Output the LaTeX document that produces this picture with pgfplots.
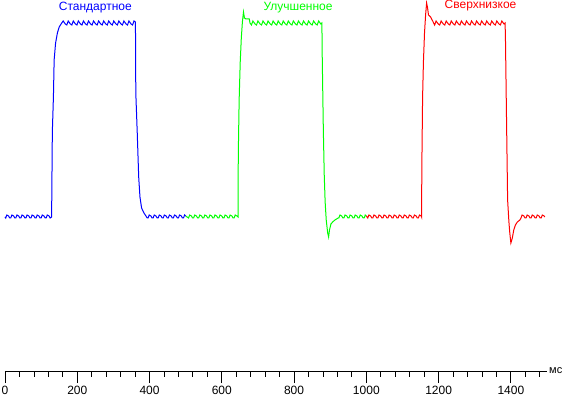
\documentclass[border=0pt]{standalone}
\usepackage{fontspec}
\setmainfont{Liberation Sans}
\usepackage{pgfplots}
\pgfplotsset{compat=1.18}
\begin{document}
\begin{tikzpicture}
\begin{axis}[
  at={(0pt,0pt)}, anchor=south west,
  scale only axis, width=542pt, height=371pt,
  xmin=0, xmax=1500, ymin=0, ymax=371,
  axis x line=bottom, axis y line=none,
  axis line style={-, black, line width=0.8pt},
  xtick={0,200,...,1400}, minor xtick={40,80,...,1480},
  tick align=outside, major tick length=12pt, minor tick length=6pt,
  tick style={black, line width=0.8pt},
  xticklabel style={font=\fontsize{12}{14}\selectfont, text=black},
  /pgf/number format/assume math mode=true,
  /pgf/number format/1000 sep={},
  clip=false,
]
% Blue
\addplot[blue, line width=1pt] coordinates {
(0,154)
(2,153)(5,156)(10,155)(13,153)
(16,153)(19,156)(24,155)(27,153)
(30,153)(33,156)(38,155)(41,153)
(44,153)(47,156)(52,155)(55,153)
(58,153)(61,156)(66,155)(69,153)
(72,153)(75,156)(80,155)(83,153)
(86,153)(89,156)(94,155)(97,153)
(100,153)(103,156)(108,155)(111,153)
(114,153)(117,156)(122,155)(125,153)
(129,154)(131,239)(134,274)(136,311)(140,328)(145,338)(150,344)(157,348)
(161,350)(167,347)
(171,346)(175,350)(181,347)
(185,346)(189,350)(195,347)
(199,346)(203,350)(209,347)
(213,346)(217,350)(223,347)
(227,346)(231,350)(237,347)
(241,346)(245,350)(251,347)
(255,346)(259,350)(265,347)
(269,346)(273,350)(279,347)
(283,346)(287,350)(293,347)
(297,346)(301,350)(307,347)
(311,346)(315,350)(321,347)
(325,346)(329,350)(335,347)
(339,346)(343,350)(349,347)
(353,346)(357,350)(361,349)
(362,278)(366,238)(370,194)(373.5,174)(378,163)(384.6,158)(393.7,153)
(396,153)(399,156)(404,155)(407,153)
(410,153)(413,156)(418,155)(421,153)
(424,153)(427,156)(432,155)(435,153)
(438,153)(441,156)(446,155)(449,153)
(452,153)(455,156)(460,155)(463,153)
(466,153)(469,156)(474,155)(477,153)
(480,153)(483,156)(488,155)(491,153)
(494,153)(497,156)(500,155)
};
% Green
\addplot[green, line width=1pt] coordinates {
(500,155)(504,154)
(508,153)(511,156)(516,155)(519,153)
(522,153)(525,156)(530,155)(533,153)
(536,153)(539,156)(544,155)(547,153)
(550,153)(553,156)(558,155)(561,153)
(564,153)(567,156)(572,155)(575,153)
(578,153)(581,156)(586,155)(589,153)
(592,153)(595,156)(600,155)(603,153)
(606,153)(609,156)(614,155)(617,153)
(620,153)(623,156)(628,155)(631,153)
(634,153)(637,156)(642,155)(645,154)
(645.6,216)(648,271)(651,309)(654,333)(657,349)(660,359)(662.7,353)(667,352)(676,352)(678,348)
(682,346)(686,350)(692,347)
(696,346)(700,350)(706,347)
(710,346)(714,350)(720,347)
(724,346)(728,350)(734,347)
(738,346)(742,350)(748,347)
(752,346)(756,350)(762,347)
(766,346)(770,350)(776,347)
(780,346)(784,350)(790,347)
(794,346)(798,350)(804,347)
(808,346)(812,350)(818,347)
(822,346)(826,350)(832,347)
(836,346)(840,350)(846,347)
(850,346)(854,350)(860,347)
(864,346)(868,350)(874,347)(877,348)
(878,313)(881,241)(883.5,196)(886,169)(889,151)(893,138)(895.6,134)(898,141)(902,147)(906.7,149)(913,151)(922,153)
(924,153)(927,156)(932,155)(935,153)
(938,153)(941,156)(946,155)(949,153)
(952,153)(955,156)(960,155)(963,153)
(966,153)(969,156)(974,155)(977,153)
(980,153)(983,156)(988,155)(991,153)
(994,153)(997,156)(1000,155)
};
% Red
\addplot[red, line width=1pt] coordinates {
(1000,155)(1002,154)
(1004,153)(1007,156)(1012,155)(1015,153)
(1018,153)(1021,156)(1026,155)(1029,153)
(1032,153)(1035,156)(1040,155)(1043,153)
(1046,153)(1049,156)(1054,155)(1057,153)
(1060,153)(1063,156)(1068,155)(1071,153)
(1074,153)(1077,156)(1082,155)(1085,153)
(1088,153)(1091,156)(1096,155)(1099,153)
(1102,153)(1105,156)(1110,155)(1113,153)
(1116,153)(1119,156)(1124,155)(1127,153)
(1130,153)(1133,156)(1138,155)(1141,153)
(1144,153)(1147,156)(1152,155)(1153,154)
(1153.5,201)(1155.7,274)(1158,309)(1161,338)(1164,356)(1166.8,368)(1169.5,363)(1172,356)(1178,354)(1185,349)
(1189,346)(1193,350)(1199,347)
(1203,346)(1207,350)(1213,347)
(1217,346)(1221,350)(1227,347)
(1231,346)(1235,350)(1241,347)
(1245,346)(1249,350)(1255,347)
(1259,346)(1263,350)(1269,347)
(1273,346)(1277,350)(1283,347)
(1287,346)(1291,350)(1297,347)
(1301,346)(1305,350)(1311,347)
(1315,346)(1319,350)(1325,347)
(1329,346)(1333,350)(1339,347)
(1343,346)(1347,350)(1353,347)
(1357,346)(1361,350)(1367,347)
(1371,346)(1375,350)(1381,347)(1384,348)
(1385,333)(1388,251)(1391,171)(1394.6,149)(1397,138)(1400,128)(1404,133)(1408,141)(1412.6,146)(1418,149)(1425,151)
(1428,153)(1431,156)(1436,155)(1439,153)
(1442,153)(1445,156)(1450,155)(1453,153)
(1456,153)(1459,156)(1464,155)(1467,153)
(1470,153)(1473,156)(1478,155)(1481,153)
(1484,153)(1487,156)(1492,155)(1494,154)
};
\node[blue, font=\fontsize{12}{14}\selectfont] at (axis cs:250,363) {Стандартное};
\node[green, font=\fontsize{12}{14}\selectfont] at (axis cs:811,363) {Улучшенное};
\node[red, font=\fontsize{12}{14}\selectfont] at (axis cs:1316,365) {Сверхнизкое};
\node[anchor=mid west, font=\fontsize{11}{13}\selectfont, inner sep=0pt, xshift=2pt] at (axis cs:1500,0) {мс};
\end{axis}
\pgfresetboundingbox
\path (-5pt,-27pt) rectangle (564pt,371pt);
\end{tikzpicture}
\end{document}
